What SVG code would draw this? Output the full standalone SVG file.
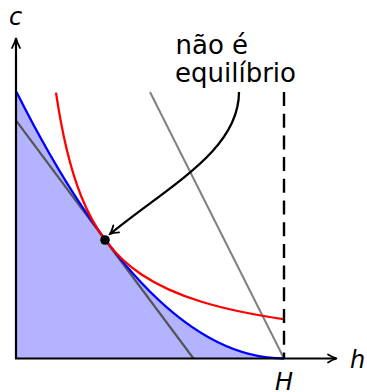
<svg xmlns="http://www.w3.org/2000/svg" width="367" height="392" viewBox="0 0 367 392">
<defs>
<style>
.lbl{font-family:"DejaVu Sans",sans-serif;font-style:italic;font-size:24px;fill:#000}
.txt{font-family:"DejaVu Sans",sans-serif;font-size:26px;fill:#000}
.ln{fill:none;stroke-width:2.3}
</style>
<marker id="ah" viewBox="-10 -6 12 12" refX="0" refY="0" markerWidth="12" markerHeight="12" markerUnits="userSpaceOnUse" orient="auto">
<path d="M-8,-4.5 Q-3,-1 0,0 Q-3,1 -8,4.5" fill="none" stroke="#000" stroke-width="1.8" stroke-linecap="round"/>
</marker>
</defs>
<g id="region">
<path d="M16.5,92 Q150.25,358.5 284,358.5 L16.5,358.5 Z" fill="#b3b3ff"/>
</g>
<g id="connectors">
<line id="tangent" x1="16.5" y1="121.2" x2="193.5" y2="358.5" stroke="#555" stroke-width="2.2"/>
<line id="wageline" x1="150" y1="92" x2="284" y2="358.5" stroke="#808080" stroke-width="2"/>
<path id="ppf" class="ln" d="M16.5,92 Q150.25,358.5 284,358.5" stroke="#0000ff"/>
<path id="indiff" class="ln" stroke="#ff0000" d="M56,92.68 C59.5,116.24 63,133.8 66.5,148.5 C71.5,169.5 76.5,184.53 81.5,196.96 C89.33,216.43 97.17,229.36 105,239.86 C117.17,256.17 129.33,266.32 141.5,274.5 C161.5,287.94 181.5,295.6 201.5,301.74 C228.67,310.07 255.83,315.08 283,319.1"/>
<line id="limit" x1="284" y1="92" x2="284" y2="358.5" stroke="#000" stroke-width="2.4" stroke-dasharray="14,7.7"/>
<path id="pointer" class="ln" stroke="#000" d="M239,92 C239,150 170,185 110,234" marker-end="url(#ah)"/>
</g>
<g id="axes">
<line x1="16" y1="358.5" x2="16" y2="39" stroke="#000" stroke-width="2.2"/>
<line x1="15" y1="358.5" x2="336" y2="358.5" stroke="#000" stroke-width="2.2"/>
<path d="M12,48 Q15,42.5 16,38 Q17,42.5 20,48" fill="none" stroke="#000" stroke-width="1.7" stroke-linecap="round"/>
<path d="M328,354.5 Q332.5,357.5 337,358.5 Q332.5,359.5 328,362.5" fill="none" stroke="#000" stroke-width="1.7" stroke-linecap="round"/>
</g>
<g id="point">
<circle cx="105" cy="240" r="4.8" fill="#000"/>
</g>
<g id="labels">
<text class="lbl" x="9" y="25">c</text>
<text class="lbl" x="350" y="368">h</text>
<text class="lbl" x="284" y="390" text-anchor="middle">H</text>
<text class="txt" x="175.5" y="53.5">não é</text>
<text class="txt" x="175" y="82">equilíbrio</text>
</g>
</svg>
